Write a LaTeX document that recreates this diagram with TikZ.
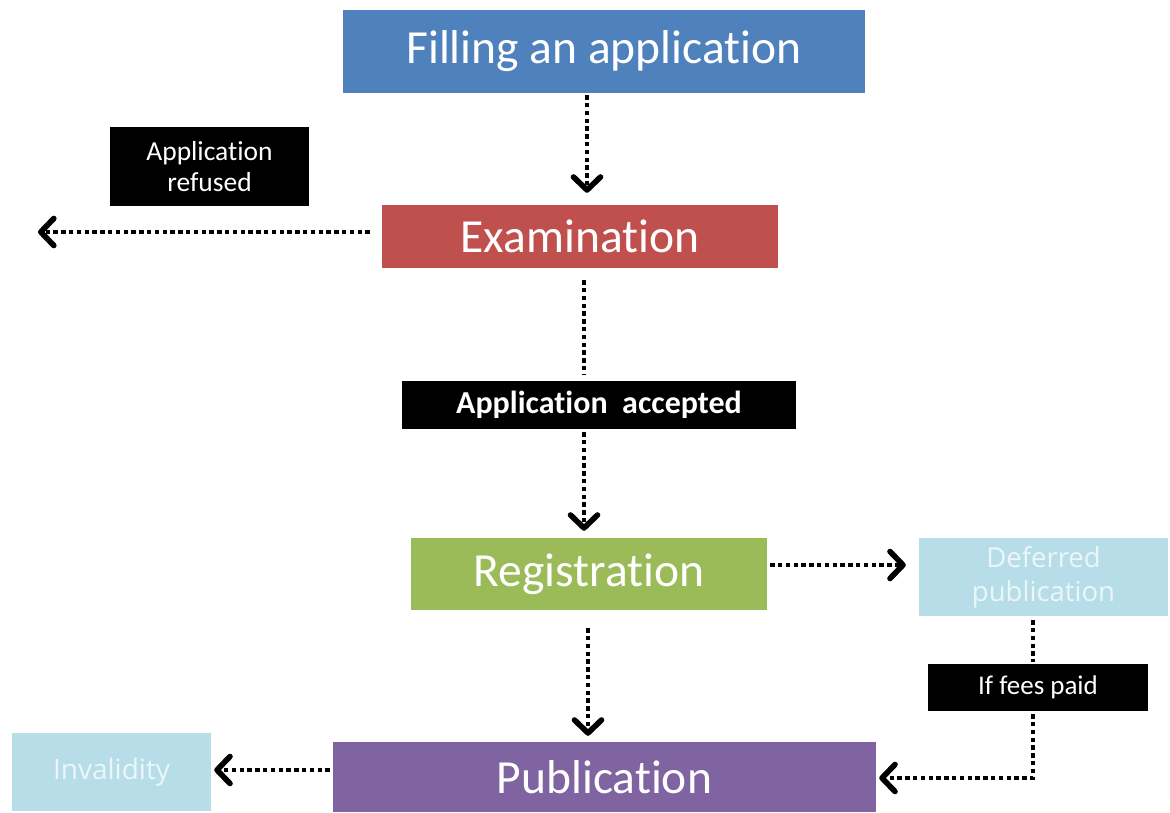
\documentclass[tikz,border=0pt]{standalone}
\usepackage{fontspec}
\setmainfont{Carlito}[Ligatures=NoCommon]
\newfontfamily\sidefont{Open Sans}
\usetikzlibrary{arrows.meta}

\begin{document}
\begin{tikzpicture}[x=1pt, y=-1pt,
    stepbox/.style={rectangle, inner sep=0pt, align=center, text=white},
    dotline/.style={line width=4pt, dash pattern=on 4.4pt off 3.4pt},
    flow/.style={dotline, -{Straight Barb[length=13pt, width=27pt, line width=0pt 1.4, round]}}]
  \useasboundingbox (0,0) rectangle (1170,813);
  % main steps
  \node[stepbox, fill={rgb,255:red,79;green,129;blue,189}, minimum width=522pt, minimum height=83pt,
        font=\fontsize{47.5}{52}\selectfont] (fill) at (604,51.5) {Filling an application};
  \node[stepbox, fill={rgb,255:red,192;green,80;blue,77}, minimum width=396pt, minimum height=63pt,
        font=\fontsize{47.5}{52}\selectfont] (exam) at (580,236.5) {Examination};
  \node[stepbox, fill={rgb,255:red,155;green,187;blue,89}, minimum width=356pt, minimum height=72pt,
        font=\fontsize{47.5}{52}\selectfont] (reg) at (589,574) {Registration};
  \node[stepbox, fill={rgb,255:red,128;green,100;blue,162}, minimum width=543pt, minimum height=70pt,
        font=\fontsize{47.5}{52}\selectfont] (pub) at (604.5,777) {Publication};
  % labels in black
  \node[stepbox, fill=black, minimum width=199pt, minimum height=79pt,
        font=\fontsize{27.5}{31}\selectfont] (refused) at (209.5,166.5) {Application\\refused};
  \node[stepbox, fill=black, minimum width=394pt, minimum height=48pt,
        font=\fontsize{32}{36}\selectfont\bfseries] (accepted) at (599,405) {Application\ \ accepted};
  \node[stepbox, fill=black, minimum width=220pt, minimum height=47pt,
        font=\fontsize{27}{31}\selectfont] (fees) at (1038,687.5) {If fees\ paid};
  % side outcomes
  \node[stepbox, fill={rgb,255:red,183;green,221;blue,232}, text={rgb,255:red,236;green,246;blue,250},
        minimum width=249pt, minimum height=78pt, font=\sidefont\fontsize{27.5}{34}\selectfont] (deferred) at (1043.5,577) {Deferred\\publication};
  \node[stepbox, fill={rgb,255:red,183;green,221;blue,232}, text={rgb,255:red,236;green,246;blue,250},
        minimum width=199pt, minimum height=78pt, font=\sidefont\fontsize{28}{32}\selectfont] (invalid) at (111.5,772) {Invalidity};

  \coordinate (colA) at (587,0);
  \coordinate (colB) at (584,0);
  \coordinate (colC) at (588,0);
  \coordinate (colD) at (1033,0);
  \coordinate (rowA) at (0,232);
  \coordinate (rowB) at (0,565);
  \coordinate (rowC) at (0,770);
  \coordinate (rowD) at (0,778);
  \coordinate (refend) at (38,232);
  \coordinate (turn) at (1033,778);

  \draw[flow, shorten <=2pt, shorten >=12pt] (fill.south -| colA) -- (exam.north -| colA);
  \draw[flow, shorten <=12pt] (exam.west |- rowA) -- (refend);
  \draw[dotline, shorten <=12pt, shorten >=6pt] (exam.south -| colB) -- (accepted.north -| colB);
  \draw[flow, shorten <=3pt, shorten >=7pt] (accepted.south -| colB) -- (reg.north -| colB);
  \draw[flow, shorten <=3pt, shorten >=13pt] (reg.east |- rowB) -- (deferred.west |- rowB);
  \draw[flow, shorten <=18pt, shorten >=6pt] (reg.south -| colC) -- (pub.north -| colC);
  \draw[flow, shorten <=3pt, shorten >=3pt] (pub.west |- rowC) -- (invalid.east |- rowC);
  \draw[dotline, shorten <=4pt, shorten >=2pt] (deferred.south -| colD) -- (fees.north -| colD);
  \draw[flow, shorten <=3pt, shorten >=3pt] (fees.south -| colD) -- (turn) -- (pub.east |- rowD);
\end{tikzpicture}
\end{document}
